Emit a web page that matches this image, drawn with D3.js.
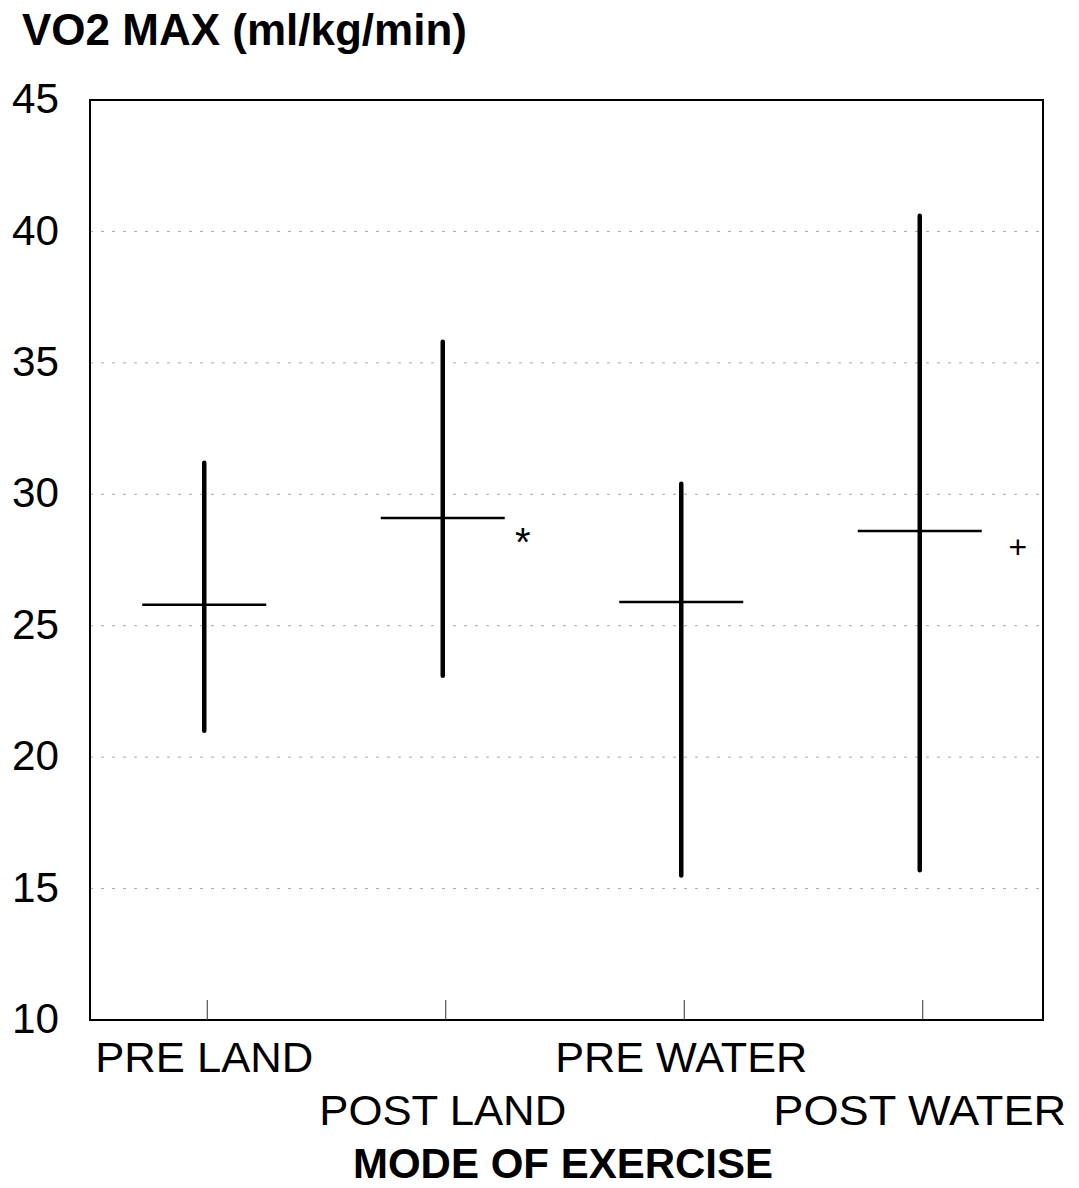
<!DOCTYPE html>
<html>
<head>
<meta charset="utf-8">
<script src="https://cdn.jsdelivr.net/npm/d3@7"></script>
<style>
  body { margin: 0; background: #fff; }
  text { font-family: "Liberation Sans", Arial, sans-serif; fill: #000; }
</style>
</head>
<body>
<div id="chart"></div>
<script>
// VO2 max by mode of exercise: range (low-high) with mean bar
var categories = ["PRE LAND", "POST LAND", "PRE WATER", "POST WATER"];
var means = [25.8, 29.1, 25.9, 28.6];
var highs = [31.2, 35.8, 30.4, 40.6];
var lows = [21.0, 23.1, 15.5, 15.7];
var marks = ["", "*", "", "+"];
var yTicks = [10, 15, 20, 25, 30, 35, 40, 45];
var gridTicks = [15, 20, 25, 30, 35, 40];

var w = 1079, h = 1188;
var plotLeft = 90, plotRight = 1043, plotTop = 100, plotBottom = 1020;

var svg = d3.select("#chart")
    .append("svg")
    .attr("width", w)
    .attr("height", h);

var x = d3.scaleBand()
    .domain(categories)
    .range([plotLeft - 5, plotRight - 4]);

var y = d3.scaleLinear()
    .domain([10, 45])
    .range([plotBottom, plotTop]);

// dotted grid
svg.append("g")
    .selectAll("line")
    .data(gridTicks)
    .enter().append("line")
    .attr("x1", plotLeft)
    .attr("x2", plotRight)
    .attr("y1", function (d) { return y(d); })
    .attr("y2", function (d) { return y(d); })
    .attr("stroke", "#a8a8a8")
    .attr("stroke-width", 1)
    .attr("stroke-dasharray", "3,8");

// frame
svg.append("rect")
    .attr("x", plotLeft)
    .attr("y", plotTop)
    .attr("width", plotRight - plotLeft)
    .attr("height", plotBottom - plotTop)
    .attr("fill", "none")
    .attr("stroke", "#000")
    .attr("stroke-width", 2);

// y axis labels
var yAxis = svg.append("g")
    .attr("transform", "translate(" + plotLeft + ",0)")
    .call(d3.axisLeft(y).tickValues(yTicks).tickSize(0).tickPadding(31));
yAxis.select(".domain").remove();
yAxis.selectAll("text")
    .style("font-size", "42px")
    .attr("dy", "0.3em")
    .attr("textLength", 47)
    .attr("lengthAdjust", "spacingAndGlyphs");

// x ticks, pointing inward from the bottom
var xAxis = svg.append("g")
    .attr("transform", "translate(3," + plotBottom + ")")
    .call(d3.axisTop(x).tickSize(20).tickFormat(""));
xAxis.select(".domain").remove();
xAxis.selectAll("line").attr("stroke", "#333").attr("stroke-width", 1);

// category labels, staggered on two rows
var labelWidths = { "PRE LAND": 218, "POST LAND": 247, "PRE WATER": 252, "POST WATER": 293 };
svg.append("g")
    .selectAll("text")
    .data(categories)
    .enter().append("text")
    .attr("x", function (d) { return x(d) + x.bandwidth() / 2; })
    .attr("y", function (d, i) { return i % 2 == 0 ? 1072 : 1125; })
    .attr("text-anchor", "middle")
    .style("font-size", "42px")
    .attr("textLength", function (d) { return labelWidths[d]; })
    .attr("lengthAdjust", "spacingAndGlyphs")
    .text(function (d) { return d; });

// range lines
var cx = function (i) { return x(categories[i]) + x.bandwidth() / 2; };
svg.append("g")
    .selectAll("line")
    .data(categories)
    .enter().append("line")
    .attr("x1", function (d, i) { return cx(i); })
    .attr("x2", function (d, i) { return cx(i); })
    .attr("y1", function (d, i) { return y(highs[i]); })
    .attr("y2", function (d, i) { return y(lows[i]); })
    .attr("stroke", "#000")
    .attr("stroke-width", 4.5)
    .attr("stroke-linecap", "round");

// mean lines
svg.append("g")
    .selectAll("line")
    .data(categories)
    .enter().append("line")
    .attr("x1", function (d, i) { return cx(i) - 62; })
    .attr("x2", function (d, i) { return cx(i) + 62; })
    .attr("y1", function (d, i) { return y(means[i]); })
    .attr("y2", function (d, i) { return y(means[i]); })
    .attr("stroke", "#000")
    .attr("stroke-width", 2.5);

// significance marks
var markDx = [0, 80, 0, 98];
svg.append("g")
    .selectAll("text")
    .data(marks)
    .enter().append("text")
    .attr("x", function (d, i) { return cx(i) + markDx[i]; })
    .attr("y", function (d, i) { return y(means[i]) + (d == "*" ? 38 : 27); })
    .attr("text-anchor", "middle")
    .style("font-size", function (d) { return d == "*" ? "40px" : "32px"; })
    .text(function (d) { return d; });

// titles
svg.append("text")
    .attr("x", 22)
    .attr("y", 45)
    .style("font-size", "44px")
    .style("font-weight", "bold")
    .text("VO2 MAX (ml/kg/min)");

svg.append("text")
    .attr("x", 563)
    .attr("y", 1178)
    .attr("text-anchor", "middle")
    .style("font-size", "42px")
    .style("font-weight", "bold")
    .text("MODE OF EXERCISE");
</script>
</body>
</html>
